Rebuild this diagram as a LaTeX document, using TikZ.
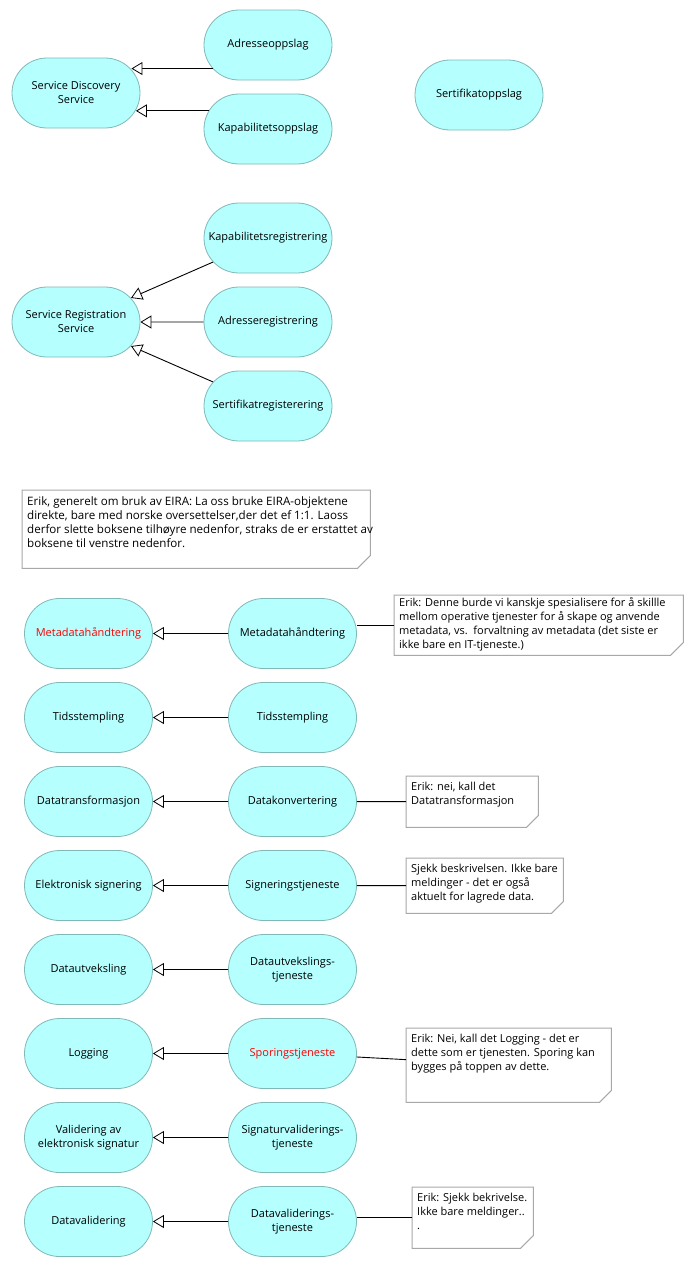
\documentclass[tikz,border=0pt]{standalone}
\usepackage{fontspec}
\setmainfont{Open Sans}
\usetikzlibrary{shapes.misc,arrows.meta}

\definecolor{svcfill}{HTML}{B5FFFF}
\definecolor{svcline}{HTML}{80B8B8}
\definecolor{noteline}{HTML}{A8A8A8}
\definecolor{redtext}{HTML}{FF0000}

\tikzset{
  svc/.style={rounded rectangle, draw=svcline, fill=svcfill, line width=0.8pt,
    minimum width=132pt, minimum height=70pt, inner sep=2pt, align=center,
    font=\fontsize{11}{14}\selectfont},
  gen/.style={draw=black, line width=0.9pt,
    -{Triangle[length=11pt, width=13pt, fill=white, line width=0.8pt]}},
  link/.style={draw=black, line width=0.9pt},
  notebox/.style={rectangle, anchor=north west, inner sep=0pt},
  fold/.style={draw=noteline, line width=1pt, fill=white},
  notetext/.style={anchor=north west, align=left, inner sep=0pt,
    font=\fontsize{11}{14}\selectfont}
}

\begin{document}
\begin{tikzpicture}[x=1pt, y=-1pt]
    \useasboundingbox (0,0) rectangle (693,1267);

    % Service discovery
    \node[svc] (sds) at (76,93) {Service Discovery\\Service};
    \node[svc] (adr) at (268,45) {Adresseoppslag};
    \node[svc] (kap) at (268,129) {Kapabilitetsoppslag};
    \node[svc] (sert) at (479,95) {Sertifikatoppslag};
    \draw[gen] (adr.203) -- (adr.203 -| sds.23);
    \draw[gen] (kap.163) -- (kap.163 -| sds.344);

    % Service registration
    \node[svc] (srs) at (76,322) {Service Registration\\Service};
    \node[svc] (kreg) at (268,238) {Kapabilitetsregistrering};
    \node[svc] (areg) at (268,322) {Adresseregistrering};
    \node[svc] (sreg) at (268,406) {Sertifikatregisterering};
    \draw[gen] (kreg) -- (srs);
    \draw[gen] (areg) -- (srs);
    \draw[gen] (sreg) -- (srs);

    % General comment
    \node[notebox, minimum width=348pt, minimum height=78pt] (nEira) at (22,490) {};
    \draw[fold] (nEira.north west) -- (nEira.north east) -- ([yshift=13pt]nEira.south east)
        -- ([xshift=-13pt]nEira.south east) -- (nEira.south west) -- cycle;
    \node[notetext, font=\fontsize{11.6}{14}\selectfont] (tEira) at ([shift={(5pt,-6pt)}]nEira.north west)
        {Erik, generelt om bruk av EIRA: La oss bruke EIRA-objektene\\
         direkte, bare med norske oversettelser,der det ef 1:1. Laoss\\
         derfor slette boksene tilhøyre nedenfor, straks de er erstattet av\\
         boksene til venstre nedenfor.};

    % EIRA services (left) and local services (right)
    \foreach \i/\lft/\rgt in {
        1/{\textcolor{redtext}{Metadatahåndtering}}/{Metadatahåndtering},
        2/{Tidsstempling}/{Tidsstempling},
        3/{Datatransformasjon}/{Datakonvertering},
        4/{Elektronisk signering}/{Signeringstjeneste},
        5/{Datautveksling}/{Datautvekslings-\\tjeneste},
        6/{Logging}/{\textcolor{redtext}{Sporingstjeneste}},
        7/{Validering av\\elektronisk signatur}/{Signaturvaliderings-\\tjeneste},
        8/{Datavalidering}/{Datavaliderings-\\tjeneste}} {
        \node[svc] (L\i) at (88.5, {549.5+84*\i}) {\lft};
        \node[svc] (R\i) at (292.5, {549.5+84*\i}) {\rgt};
        \draw[gen] (R\i) -- (L\i);
    }

    % Comments on the right
    \node[notebox, minimum width=289pt, minimum height=60pt] (nMeta) at (394,595) {};
    \draw[fold] (nMeta.north west) -- (nMeta.north east) -- ([yshift=13pt]nMeta.south east)
        -- ([xshift=-13pt]nMeta.south east) -- (nMeta.south west) -- cycle;
    \node[notetext] (tMeta) at ([shift={(5pt,-2pt)}]nMeta.north west)
        {Erik: Denne burde vi kanskje spesialisere for å skillle\\
         mellom operative tjenester for å skape og anvende\\
         metadata, vs.\ \ forvaltning av metadata (det siste er\\
         ikke bare en IT-tjeneste.)};

    \node[notebox, minimum width=132pt, minimum height=51pt] (nKonv) at (406,776) {};
    \draw[fold] (nKonv.north west) -- (nKonv.north east) -- ([yshift=12pt]nKonv.south east)
        -- ([xshift=-12pt]nKonv.south east) -- (nKonv.south west) -- cycle;
    \node[notetext] (tKonv) at ([shift={(5pt,-6pt)}]nKonv.north west)
        {Erik: nei, kall det\\Datatransformasjon};

    \node[notebox, minimum width=157pt, minimum height=55pt] (nSign) at (406,858) {};
    \draw[fold] (nSign.north west) -- (nSign.north east) -- ([yshift=12pt]nSign.south east)
        -- ([xshift=-12pt]nSign.south east) -- (nSign.south west) -- cycle;
    \node[notetext] (tSign) at ([shift={(5pt,-6pt)}]nSign.north west)
        {Sjekk beskrivelsen. Ikke bare\\meldinger - det er også\\aktuelt for lagrede data.};

    \node[notebox, minimum width=205pt, minimum height=74pt] (nSpor) at (406,1028) {};
    \draw[fold] (nSpor.north west) -- (nSpor.north east) -- ([yshift=12pt]nSpor.south east)
        -- ([xshift=-12pt]nSpor.south east) -- (nSpor.south west) -- cycle;
    \node[notetext] (tSpor) at ([shift={(5pt,-6pt)}]nSpor.north west)
        {Erik: Nei, kall det Logging - det er\\dette som er tjenesten. Sporing kan\\bygges på toppen av dette.};

    \node[notebox, minimum width=121pt, minimum height=61pt] (nDval) at (412,1187) {};
    \draw[fold] (nDval.north west) -- (nDval.north east) -- ([yshift=13pt]nDval.south east)
        -- ([xshift=-13pt]nDval.south east) -- (nDval.south west) -- cycle;
    \node[notetext] (tDval) at ([shift={(5pt,-6pt)}]nDval.north west)
        {Erik: Sjekk bekrivelse.\\Ikke bare meldinger..\\.};

    % Links to comments
    \draw[link] (nMeta.west -| R1.east) -- (nMeta.west);
    \draw[link] (R3) -- (nKonv);
    \draw[link] (R4) -- (nSign);
    \draw[link] (R6) -- (nSpor);
    \draw[link] (nDval.west -| R8.east) -- (nDval.west);

\end{tikzpicture}
\end{document}
